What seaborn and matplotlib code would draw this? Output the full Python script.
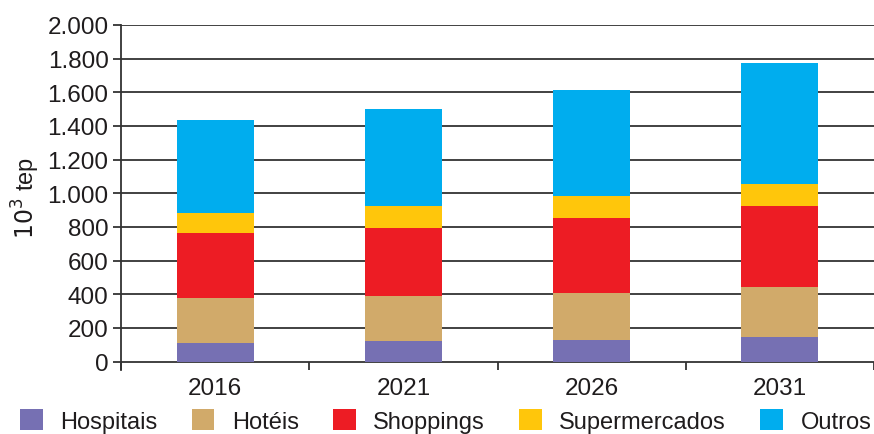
import matplotlib
matplotlib.use("Agg")
import matplotlib.pyplot as plt
import seaborn as sns
import numpy as np
import pandas as pd
from matplotlib.patches import Patch

years = ["2016", "2021", "2026", "2031"]
series_names = ["Hospitais", "Hotéis", "Shoppings", "Supermercados", "Outros"]
hospitais = [108, 122, 128, 144]
hoteis = [270, 266, 280, 299]
shoppings = [383, 405, 446, 483]
supermercados = [123, 131, 127, 131]
outros = [549, 577, 631, 718]
colors = ["#7670B3", "#D1AA6A", "#ED1C24", "#FFC60B", "#00ADEE"]
y_ticks = [0, 200, 400, 600, 800, 1000, 1200, 1400, 1600, 1800, 2000]
y_tick_labels = ["0", "200", "400", "600", "800", "1.000", "1.200", "1.400", "1.600", "1.800", "2.000"]

sns.set_style("white")
plt.rcParams['font.family'] = ['Liberation Sans', 'DejaVu Sans']
txt = "#1f1c1d"
grid_c = "#333333"

fig = plt.figure(figsize=(8.74, 4.35), dpi=100)
ax = fig.add_axes([121/874, 1 - 370.6/435, 1 - 121/874, (370.6 - 26) / 435])

values = [hospitais, hoteis, shoppings, supermercados, outros]
cum = np.cumsum(np.array(values), axis=0)
# draw from top layer down so lower layers overlay
for i in range(len(series_names) - 1, -1, -1):
    df = pd.DataFrame({"year": years, "v": cum[i]})
    sns.barplot(data=df, x="year", y="v", color=colors[i], width=0.41,
                saturation=1, linewidth=0, ax=ax, zorder=3)

ax.set_ylim(-48, 2000)
ax.set_xlim(-0.5, 3.5)
for t in y_ticks:
    ax.axhline(t, color=grid_c, lw=1.3, zorder=1)
ax.set_yticks(y_ticks)
ax.set_yticklabels(y_tick_labels, fontsize=17.5, color=txt)
ax.tick_params(axis="y", direction="out", length=6, width=1.3, color=grid_c, pad=3, left=True)
ax.set_xticks(range(len(years)))
ax.set_xticklabels(years, fontsize=17.5, color=txt)
ax.tick_params(axis="x", which="major", length=0, pad=5)
ax.set_xticks([-0.5, 0.5, 1.5, 2.5, 3.5], minor=True)
ax.tick_params(axis="x", which="minor", direction="in", length=6, width=1.3, color=grid_c, bottom=True)
for s in ["top", "right", "bottom"]:
    ax.spines[s].set_visible(False)
ax.spines["left"].set_color(grid_c)
ax.spines["left"].set_linewidth(1.3)
ax.set_xlabel("")
ax.set_ylabel("$10^3$ tep", fontsize=17, color=txt, labelpad=4)

handles = [Patch(facecolor=c, edgecolor="none") for c in colors]
leg = fig.legend(handles, series_names, loc="center", ncol=5, frameon=False,
                 fontsize=17, bbox_to_anchor=(0.51, 0.03), handlelength=0.95, handleheight=0.95,
                 columnspacing=1.45, handletextpad=0.75, borderpad=0, borderaxespad=0)
for t in leg.get_texts():
    t.set_color(txt)

fig.savefig("out.png", dpi=100)
